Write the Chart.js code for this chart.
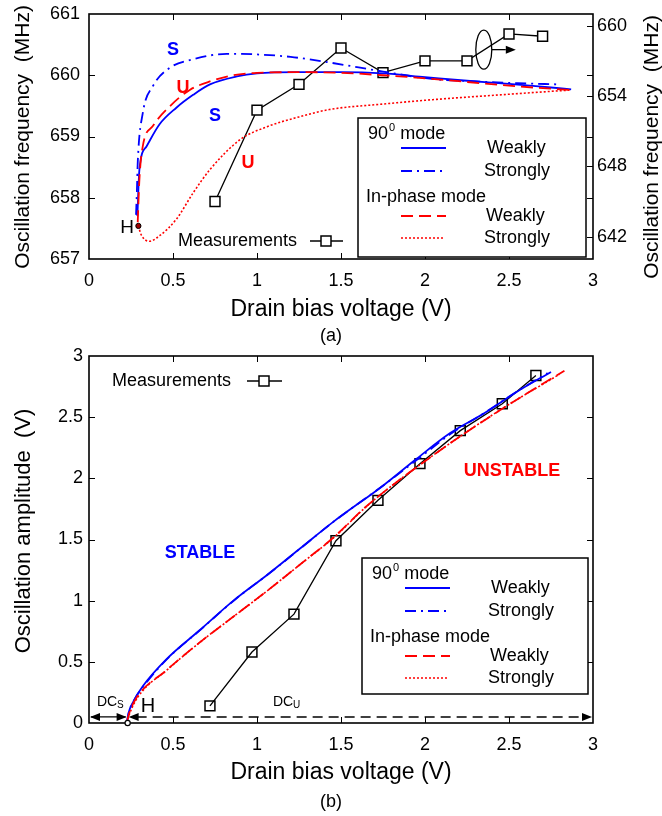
<!DOCTYPE html>
<html><head><meta charset="utf-8">
<script src="https://cdn.jsdelivr.net/npm/chart.js@4.4.0/dist/chart.umd.min.js"></script>
<style>
html,body{margin:0;padding:0;background:#fff;}
#wrap{position:relative;width:662px;height:816px;overflow:hidden;}
#ca{position:absolute;left:0;top:0;}
#cb{position:absolute;left:0;top:345px;}
</style></head><body>
<div id="wrap"><canvas id="ca" width="662" height="345" style="width:662px;height:345px"></canvas><canvas id="cb" width="662" height="471" style="width:662px;height:471px"></canvas></div>
<script>
// ---------- Panel (a): oscillation frequency (MHz) vs drain bias (V) ----------
const biasA_w90 = [0.288,0.30,0.343,0.42,0.52,0.62,0.72,0.88,1.0,1.25,1.5,1.75,2.0,2.25,2.5,2.75,2.87];
const freqA_w90 = [657.70,658.46,658.84,659.2,659.47,659.68,659.85,659.98,660.03,660.05,660.05,660.03,659.97,659.91,659.86,659.8,659.77];
const biasA_s90 = [0.28,0.285,0.29,0.32,0.38,0.48,0.62,0.82,1.0,1.2,1.45,1.75,2.04,2.3,2.55,2.81];
const freqA_s90 = [657.72,658.1,658.57,659.38,659.82,660.12,660.26,660.35,660.34,660.3,660.2,660.06,659.94,659.9,659.87,659.85];
const biasA_wIP = [0.29,0.30,0.32,0.38,0.48,0.60,0.72,0.86,1.0,1.25,1.5,1.75,2.0,2.25,2.5,2.75,2.87];
const freqA_wIP = [657.6,658.3,658.84,659.17,659.49,659.76,659.9,660.0,660.04,660.05,660.04,660.0,659.95,659.89,659.83,659.78,659.76];
const biasA_sIP = [0.294,0.31,0.36,0.42,0.52,0.62,0.72,0.9,1.06,1.25,1.43,1.75,2.04,2.5,2.87];
const freqA_sIP = [657.54,657.4,657.29,657.38,657.65,658.08,658.46,658.95,659.16,659.32,659.44,659.53,659.6,659.69,659.76];
const biasA_meas = [0.75,1.0,1.25,1.5,1.75,2.0,2.25,2.5,2.7];
const freqA_meas = [645.0,652.8,655.0,658.1,656.0,657.0,657.0,659.3,659.1];   // right axis
const ticksA_left = [657,658,659,660,661];
const ticksA_right = [642,648,654,660];
const hopfA = [0.294, 657.54];

// ---------- Panel (b): oscillation amplitude (V) vs drain bias (V) ----------
const biasB_w90 = [0.225,0.235,0.264,0.32,0.46,0.66,0.86,1.06,1.26,1.45,1.75,1.95,2.15,2.35,2.55,2.75];
const amplB_w90 = [0.0,0.08,0.175,0.30,0.52,0.76,1.0,1.21,1.43,1.64,1.94,2.16,2.37,2.53,2.71,2.87];
const biasB_s90 = [0.225,0.24,0.27,0.33,0.47,0.67,0.87,1.07,1.27,1.46,1.76,1.96,2.16,2.36,2.56,2.73];
const amplB_s90 = [0.0,0.1,0.19,0.31,0.53,0.77,1.01,1.22,1.44,1.65,1.95,2.16,2.37,2.54,2.72,2.86];
const biasB_wIP = [0.225,0.235,0.28,0.46,0.66,0.86,1.06,1.26,1.45,1.65,2.05,2.45,2.83];
const amplB_wIP = [0.0,0.06,0.2,0.43,0.66,0.87,1.08,1.30,1.51,1.77,2.19,2.56,2.88];
const biasB_sIP = [0.225,0.24,0.29,0.47,0.67,0.87,1.07,1.27,1.46,1.66,2.06,2.46,2.8];
const amplB_sIP = [0.0,0.07,0.21,0.44,0.67,0.88,1.09,1.31,1.52,1.78,2.2,2.57,2.85];
const biasB_meas = [0.72,0.97,1.22,1.47,1.72,1.97,2.21,2.46,2.66];
const amplB_meas = [0.14,0.58,0.89,1.49,1.82,2.12,2.39,2.61,2.84];
const hopfB = [0.23, 0.0];
const dcLevelB = 0.05;

const FONT = '"Liberation Sans", Arial, Helvetica, sans-serif';
const BLUE = '#0000ff', RED = '#ff0000';
const zip = (xs, ys) => xs.map((x, i) => ({x: x, y: ys[i]}));

function txt(ctx, s, x, y, size, o) {
  o = o || {};
  ctx.font = (o.bold ? 'bold ' : '') + size + 'px ' + FONT;
  ctx.fillStyle = o.color || '#000';
  ctx.textAlign = o.align || 'left';
  ctx.textBaseline = 'middle';
  ctx.fillText(s, x, y);
}
function vtxt(ctx, s, x, y, size) {
  ctx.save(); ctx.translate(x, y); ctx.rotate(-Math.PI / 2);
  txt(ctx, s, 0, 0, size, {align: 'center'}); ctx.restore();
}
function seg(ctx, x0, y0, x1, y1, color, w, dash) {
  ctx.save(); ctx.beginPath(); ctx.strokeStyle = color; ctx.lineWidth = w;
  ctx.setLineDash(dash || []); ctx.moveTo(x0, y0); ctx.lineTo(x1, y1); ctx.stroke(); ctx.restore();
}
function head(ctx, tipX, y, dir) {
  ctx.save(); ctx.beginPath(); ctx.fillStyle = '#000';
  ctx.moveTo(tipX, y); ctx.lineTo(tipX - dir * 10, y - 4); ctx.lineTo(tipX - dir * 10, y + 4); ctx.closePath(); ctx.fill(); ctx.restore();
}
function square(ctx, x, y) {
  ctx.save(); ctx.fillStyle = '#fff'; ctx.strokeStyle = '#000'; ctx.lineWidth = 1.5;
  ctx.fillRect(x - 5, y - 5, 10, 10); ctx.strokeRect(x - 5, y - 5, 10, 10); ctx.restore();
}
function modeText(ctx, x, y) {
  ctx.font = '18px ' + FONT; ctx.fillStyle = '#000'; ctx.textAlign = 'left'; ctx.textBaseline = 'middle';
  ctx.fillText('90', x, y); const w = ctx.measureText('90').width;
  ctx.font = '11px ' + FONT; ctx.fillText('0', x + w + 1, y - 6); const w2 = ctx.measureText('0').width;
  ctx.font = '18px ' + FONT; ctx.fillText(' mode', x + w + 1 + w2, y);
}
function legendBox(ctx, bx, by, bw, bh) {
  ctx.save(); ctx.fillStyle = '#fff'; ctx.fillRect(bx, by, bw, bh);
  ctx.strokeStyle = '#000'; ctx.lineWidth = 1.5; ctx.strokeRect(bx, by, bw, bh); ctx.restore();
  modeText(ctx, bx + 10, by + 16);
  seg(ctx, bx + 43, by + 30, bx + 88, by + 30, BLUE, 2);
  txt(ctx, 'Weakly', bx + 129, by + 30, 18);
  seg(ctx, bx + 43, by + 53, bx + 86, by + 53, BLUE, 2, [11, 5, 2, 5]);
  txt(ctx, 'Strongly', bx + 126, by + 53, 18);
  txt(ctx, 'In-phase mode', bx + 8, by + 79, 18);
  seg(ctx, bx + 43, by + 98, bx + 88, by + 98, RED, 2, [12, 6]);
  txt(ctx, 'Weakly', bx + 128, by + 98, 18);
  seg(ctx, bx + 43, by + 120, bx + 86, by + 120, RED, 1.6, [2, 2]);
  txt(ctx, 'Strongly', bx + 126, by + 120, 18);
}
function frameTicks(chart, leftTicks, rightTicks, rightScaleId) {
  const ctx = chart.ctx, a = chart.chartArea, sx = chart.scales.x, sy = chart.scales.y;
  ctx.save(); ctx.strokeStyle = '#000'; ctx.lineWidth = 1;
  const L = 6;
  [0.5, 1, 1.5, 2, 2.5].forEach(v => {
    const px = Math.round(sx.getPixelForValue(v)) + 0.5;
    ctx.beginPath(); ctx.moveTo(px, a.bottom); ctx.lineTo(px, a.bottom - L);
    ctx.moveTo(px, a.top); ctx.lineTo(px, a.top + L); ctx.stroke();
  });
  leftTicks.forEach(v => {
    const py = Math.round(sy.getPixelForValue(v)) + 0.5;
    if (py < a.top + 2 || py > a.bottom - 2) return;
    ctx.beginPath(); ctx.moveTo(a.left, py); ctx.lineTo(a.left + L, py);
    ctx.moveTo(a.right, py); ctx.lineTo(a.right - L, py); ctx.stroke();
  });
  if (rightScaleId) {
    const s2 = chart.scales[rightScaleId];
    rightTicks.forEach(v => {
      const py = Math.round(s2.getPixelForValue(v)) + 0.5;
      ctx.beginPath(); ctx.moveTo(a.right, py); ctx.lineTo(a.right - L, py); ctx.stroke();
    });
  }
  ctx.lineWidth = 1.6;
  ctx.strokeRect(a.left, a.top, a.right - a.left, a.bottom - a.top);
  ctx.restore();
}
function noPad(s) { s.paddingTop = 0; s.paddingBottom = 0; s.paddingLeft = 0; s.paddingRight = 0; }

const tickFont = {family: FONT, size: 18};
const baseLine = {pointRadius: 0, borderWidth: 1.8, cubicInterpolationMode: 'monotone', fill: false};

// ---------------- Chart A ----------------
const plugA = {
  id: 'plugA',
  afterDatasetsDraw(chart) {
    const ctx = chart.ctx, sx = chart.scales.x, sy = chart.scales.y, s2 = chart.scales.y2;
    frameTicks(chart, ticksA_left, ticksA_right, 'y2');
    ctx.save(); ctx.beginPath(); ctx.arc(sx.getPixelForValue(hopfA[0]), sy.getPixelForValue(hopfA[1]), 2.6, 0, 2 * Math.PI);
    ctx.fillStyle = '#a00000'; ctx.fill(); ctx.strokeStyle = '#000'; ctx.lineWidth = 1; ctx.stroke(); ctx.restore();
    txt(ctx, 'H', 127, 228, 19, {align: 'center'});
    txt(ctx, 'S', 173, 50, 18, {bold: true, color: BLUE, align: 'center'});
    txt(ctx, 'U', 183, 88, 18, {bold: true, color: RED, align: 'center'});
    txt(ctx, 'S', 215, 116, 18, {bold: true, color: BLUE, align: 'center'});
    txt(ctx, 'U', 248, 163, 18, {bold: true, color: RED, align: 'center'});
    const ex = sx.getPixelForValue(2.35), ey = s2.getPixelForValue(657.96);
    ctx.save(); ctx.beginPath(); ctx.ellipse(ex, ey, 8, 19.5, 0, 0, 2 * Math.PI);
    ctx.strokeStyle = '#000'; ctx.lineWidth = 1.3; ctx.stroke(); ctx.restore();
    seg(ctx, ex + 8, ey, ex + 22, ey, '#000', 1.3);
    head(ctx, ex + 32, ey, 1);
    legendBox(ctx, 358, 118, 228, 139);
    txt(ctx, 'Measurements', 178, 241, 18);
    seg(ctx, 310, 241, 343, 241, '#000', 1.3); square(ctx, 326, 241);
    vtxt(ctx, 'Oscillation frequency  (MHz)', 23, 137, 21);
    vtxt(ctx, 'Oscillation frequency  (MHz)', 652, 147, 21);
    txt(ctx, 'Drain bias voltage (V)', 341, 310, 23, {align: 'center'});
    txt(ctx, '(a)', 331, 336, 18, {align: 'center'});
  }
};

new Chart(document.getElementById('ca'), {
  type: 'line',
  data: {datasets: [
    Object.assign({data: zip(biasA_sIP, freqA_sIP), borderColor: RED, borderDash: [2, 2], yAxisID: 'y'}, baseLine, {borderWidth: 1.6}),
    Object.assign({data: zip(biasA_wIP, freqA_wIP), borderColor: RED, borderDash: [12, 6], yAxisID: 'y'}, baseLine),
    Object.assign({data: zip(biasA_w90, freqA_w90), borderColor: BLUE, yAxisID: 'y'}, baseLine),
    Object.assign({data: zip(biasA_s90, freqA_s90), borderColor: BLUE, borderDash: [11, 5, 2, 5], yAxisID: 'y'}, baseLine),
    {data: zip(biasA_meas, freqA_meas), yAxisID: 'y2', borderColor: '#000', borderWidth: 1.3, tension: 0,
     pointStyle: 'rect', pointRadius: 7, pointBackgroundColor: '#fff', pointBorderColor: '#000', pointBorderWidth: 1.5}
  ]},
  options: {
    responsive: false, animation: false, events: [],
    layout: {padding: {top: 14, left: 0, right: 0, bottom: 0}},
    plugins: {legend: {display: false}, tooltip: {enabled: false}},
    scales: {
      x: {type: 'linear', min: 0, max: 3, ticks: {stepSize: 0.5, font: tickFont, color: '#000', padding: 11, maxRotation: 0, callback: v => String(v)},
          grid: {display: false, drawTicks: false}, border: {display: false}, afterFit: s => { s.height = 86; noPad(s); }},
      y: {type: 'linear', position: 'left', min: 657, max: 661,
          afterBuildTicks: s => { s.ticks = ticksA_left.map(v => ({value: v})); },
          ticks: {font: tickFont, color: '#000', padding: 9, callback: v => String(v)},
          grid: {display: false, drawTicks: false}, border: {display: false}, afterFit: s => { s.width = 89; noPad(s); }},
      y2: {type: 'linear', position: 'right', min: 640.1, max: 661.0,
          afterBuildTicks: s => { s.ticks = ticksA_right.map(v => ({value: v})); },
          ticks: {font: tickFont, color: '#000', padding: 4, callback: v => String(v)},
          grid: {display: false, drawTicks: false}, border: {display: false}, afterFit: s => { s.width = 69; noPad(s); }}
    }
  },
  plugins: [plugA]
});

// ---------------- Chart B ----------------
const plugB = {
  id: 'plugB',
  afterDatasetsDraw(chart) {
    const ctx = chart.ctx, sx = chart.scales.x, sy = chart.scales.y, a = chart.chartArea;
    frameTicks(chart, [0.5, 1, 1.5, 2, 2.5], [], null);
    const yDC = sy.getPixelForValue(dcLevelB);
    const xH = sx.getPixelForValue(hopfB[0]);
    seg(ctx, a.left + 2, yDC, xH - 2, yDC, '#000', 1.3);
    head(ctx, a.left + 1, yDC, -1); head(ctx, xH - 1, yDC, 1);
    seg(ctx, xH + 9, yDC, a.right - 8, yDC, '#000', 1.5, [10, 6]);
    head(ctx, xH + 1, yDC, -1); head(ctx, a.right - 1, yDC, 1);
    ctx.save(); ctx.beginPath(); ctx.arc(xH, sy.getPixelForValue(hopfB[1]), 2.6, 0, 2 * Math.PI);
    ctx.fillStyle = '#fff'; ctx.fill(); ctx.strokeStyle = '#000'; ctx.lineWidth = 1.2; ctx.stroke(); ctx.restore();
    txt(ctx, 'DC', 97, 357, 14); txt(ctx, 'S', 97 + 20, 360, 10);
    txt(ctx, 'DC', 273, 357, 14); txt(ctx, 'U', 273 + 20, 360, 10);
    txt(ctx, 'H', 148, 361, 20, {align: 'center'});
    txt(ctx, 'STABLE', 200, 208, 18, {bold: true, color: BLUE, align: 'center'});
    txt(ctx, 'UNSTABLE', 512, 126, 18, {bold: true, color: RED, align: 'center'});
    legendBox(ctx, 362, 213, 226, 136);
    txt(ctx, 'Measurements', 112, 36, 18);
    seg(ctx, 247, 36, 282, 36, '#000', 1.3); square(ctx, 264, 36);
    vtxt(ctx, 'Oscillation amplitude  (V)', 24, 186, 22);
    txt(ctx, 'Drain bias voltage (V)', 341, 428, 23, {align: 'center'});
    txt(ctx, '(b)', 331, 457, 18, {align: 'center'});
  }
};

new Chart(document.getElementById('cb'), {
  type: 'line',
  data: {datasets: [
    Object.assign({data: zip(biasB_sIP, amplB_sIP), borderColor: RED, borderDash: [2, 2]}, baseLine, {borderWidth: 1.6}),
    Object.assign({data: zip(biasB_wIP, amplB_wIP), borderColor: RED, borderDash: [12, 6]}, baseLine),
    Object.assign({data: zip(biasB_s90, amplB_s90), borderColor: BLUE, borderDash: [11, 5, 2, 5]}, baseLine),
    Object.assign({data: zip(biasB_w90, amplB_w90), borderColor: BLUE}, baseLine),
    {data: zip(biasB_meas, amplB_meas), borderColor: '#000', borderWidth: 1.3, tension: 0,
     pointStyle: 'rect', pointRadius: 7, pointBackgroundColor: 'rgba(255,255,255,0)', pointBorderColor: '#000', pointBorderWidth: 1.5}
  ]},
  options: {
    responsive: false, animation: false, events: [],
    layout: {padding: {top: 11, left: 0, right: 69, bottom: 0}},
    plugins: {legend: {display: false}, tooltip: {enabled: false}},
    scales: {
      x: {type: 'linear', min: 0, max: 3, ticks: {stepSize: 0.5, font: tickFont, color: '#000', padding: 11, maxRotation: 0, callback: v => String(v)},
          grid: {display: false, drawTicks: false}, border: {display: false}, afterFit: s => { s.height = 93; noPad(s); }},
      y: {type: 'linear', position: 'left', min: 0, max: 3,
          ticks: {stepSize: 0.5, font: tickFont, color: '#000', padding: 6, callback: v => String(v)},
          grid: {display: false, drawTicks: false}, border: {display: false}, afterFit: s => { s.width = 89; noPad(s); }}
    }
  },
  plugins: [plugB]
});
</script>
</body></html>
